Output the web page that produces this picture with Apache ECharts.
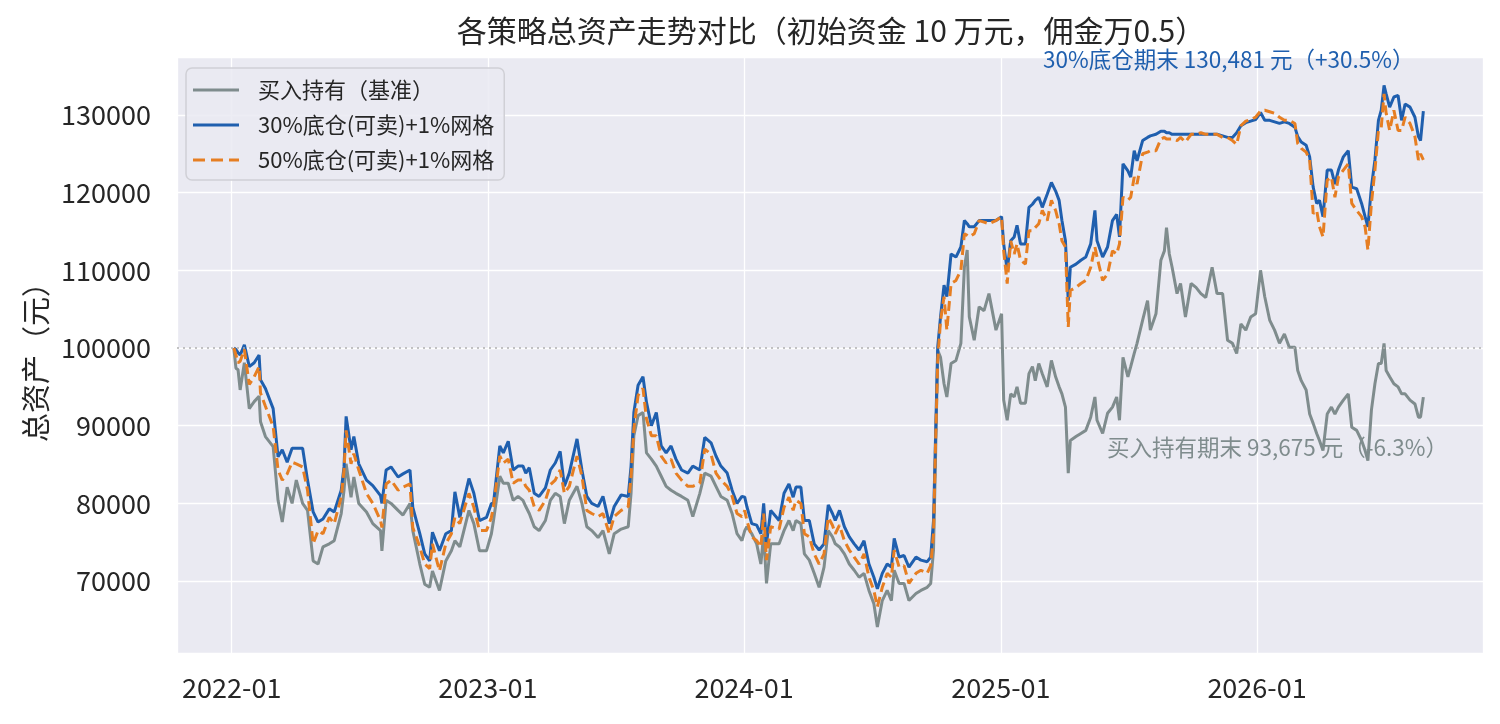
<!DOCTYPE html>
<html>
<head>
<meta charset="UTF-8">
<title>各策略总资产走势对比</title>
<script src="https://cdn.jsdelivr.net/npm/echarts@6/dist/echarts.min.js"></script>
<style>
html, body { margin: 0; padding: 0; background: #fff; }
#main { width: 1500px; height: 724px; }
</style>
</head>
<body>
<div id="main"></div>
<script>
// 交易日期（抽样）
var dates = [
  '2022-01-04','2022-01-07','2022-01-10','2022-01-13','2022-01-19','2022-01-26','2022-02-02','2022-02-09','2022-02-11','2022-02-18',
  '2022-03-01','2022-03-08','2022-03-14','2022-03-21','2022-03-28','2022-04-03','2022-04-12','2022-04-19','2022-04-27','2022-05-04',
  '2022-05-11','2022-05-20','2022-05-27','2022-06-06','2022-06-10','2022-06-13','2022-06-20','2022-06-24','2022-07-01','2022-07-12',
  '2022-07-21','2022-08-01','2022-08-03','2022-08-09','2022-08-16','2022-08-26','2022-09-02','2022-09-12','2022-09-16','2022-09-26',
  '2022-10-03','2022-10-10','2022-10-14','2022-10-24','2022-11-02','2022-11-10','2022-11-15','2022-11-22','2022-12-05','2022-12-12',
  '2022-12-20','2022-12-30','2023-01-06',
  '2023-01-09','2023-01-18','2023-01-23','2023-01-30','2023-02-06','2023-02-13','2023-02-20','2023-02-24','2023-03-01','2023-03-08',
  '2023-03-15','2023-03-24','2023-03-31','2023-04-07','2023-04-14','2023-04-20','2023-04-27','2023-05-08','2023-05-15','2023-05-22',
  '2023-05-29','2023-06-07','2023-06-14','2023-06-23','2023-06-30','2023-07-10','2023-07-20','2023-07-24','2023-07-28','2023-08-03',
  '2023-08-10','2023-08-15','2023-08-22','2023-08-29','2023-09-05','2023-09-12','2023-09-19','2023-09-26','2023-10-04','2023-10-13',
  '2023-10-20','2023-10-30','2023-11-06','2023-11-15','2023-11-22','2023-11-29','2023-12-08','2023-12-15','2023-12-22','2023-12-29',
  '2024-01-02','2024-01-05','2024-01-12','2024-01-19','2024-01-25','2024-01-29','2024-02-02','2024-02-08','2024-02-20','2024-02-27',
  '2024-03-05','2024-03-11','2024-03-15','2024-03-22','2024-03-27','2024-04-03','2024-04-10','2024-04-17','2024-04-24','2024-04-30',
  '2024-05-06','2024-05-10','2024-05-16','2024-05-23','2024-05-30','2024-06-06','2024-06-13','2024-06-20','2024-06-27','2024-07-04',
  '2024-07-09','2024-07-16','2024-07-23','2024-07-29','2024-08-02','2024-08-09','2024-08-16','2024-08-23','2024-09-02','2024-09-09',
  '2024-09-18','2024-09-23','2024-09-27','2024-09-30','2024-10-03','2024-10-07','2024-10-12','2024-10-16','2024-10-22','2024-10-29',
  '2024-11-05','2024-11-10','2024-11-14','2024-11-17','2024-11-24','2024-12-01','2024-12-08','2024-12-15','2024-12-25','2025-01-02',
  '2025-01-05','2025-01-10','2025-01-15','2025-01-20','2025-01-24','2025-01-29','2025-02-05','2025-02-10','2025-02-15','2025-02-19',
  '2025-02-24','2025-03-01','2025-03-08','2025-03-14','2025-03-20','2025-03-25','2025-03-29','2025-04-03','2025-04-07','2025-04-10',
  '2025-04-18','2025-04-25','2025-05-02','2025-05-09','2025-05-15','2025-05-18','2025-05-26','2025-06-02','2025-06-09','2025-06-15',
  '2025-06-19','2025-06-24','2025-07-01','2025-07-05','2025-07-10','2025-07-14','2025-07-22','2025-07-29','2025-08-02','2025-08-10',
  '2025-08-17','2025-08-22','2025-08-25','2025-08-29','2025-09-02','2025-09-09','2025-09-14','2025-09-21','2025-09-29','2025-10-06',
  '2025-10-13','2025-10-20','2025-10-29','2025-11-05','2025-11-13','2025-11-20','2025-11-27','2025-12-03','2025-12-09','2025-12-16',
  '2025-12-23','2025-12-30','2026-01-06',
  '2026-01-12','2026-01-19','2026-01-26','2026-02-02','2026-02-09','2026-02-16','2026-02-24','2026-02-28','2026-03-05','2026-03-12',
  '2026-03-17','2026-03-22','2026-03-27','2026-03-31','2026-04-05','2026-04-11','2026-04-17','2026-04-22','2026-04-27','2026-05-04',
  '2026-05-11','2026-05-16','2026-05-23','2026-05-30','2026-06-04','2026-06-08','2026-06-13','2026-06-18','2026-06-23','2026-06-27',
  '2026-07-01','2026-07-04','2026-07-09','2026-07-15','2026-07-21','2026-07-26','2026-07-31','2026-08-07','2026-08-14','2026-08-19',
  '2026-08-22','2026-08-26'
];

// 买入持有（基准）
var hold = [
  100000,97400,97200,94600,98100,92200,93100,93800,90500,88600,
  87300,80400,77600,82100,80000,83000,80000,79100,72600,72200,
  74400,74800,75200,78700,81700,85100,80800,83400,80000,78900,
  77400,76500,73900,80400,80000,79100,78500,80000,76500,72200,
  69600,69200,71300,68800,72600,73900,75200,74400,79100,77400,
  73900,73900,76100,
  77800,83500,82600,82600,80400,80900,80400,79600,78700,77000,
  76500,77800,80400,81300,80900,77400,80400,82200,80000,77000,
  76500,75600,76500,73500,76100,76700,77000,81300,88700,91300,
  91700,86500,85700,84800,83500,82200,81700,81300,80900,80400,
  78300,81300,83900,83500,82200,80900,80400,78700,76100,75200,
  76500,77000,76100,74800,72200,76100,69700,74800,74800,76500,
  77800,76500,77800,77400,73500,72700,71000,69200,71800,76500,
  75700,74800,74400,73500,72200,71400,70500,71000,68800,67100,
  64100,67500,68800,67500,71400,69700,69700,67500,68400,68800,
  69200,69700,74000,86400,99700,98800,95400,93700,98000,98400,
  100600,110400,112600,104000,101000,105300,104800,107000,102300,104400,
  93300,90700,94100,93700,95000,92900,92900,96700,97600,95800,
  98000,96700,95000,98400,96300,95000,94100,92400,83900,88100,
  88600,89000,89400,91100,93700,90700,89000,91600,92400,93700,
  90700,98800,96300,97600,99300,100600,103600,106100,102300,104400,
  111300,112500,115500,112100,110400,107000,108300,104000,108300,107800,
  107000,106500,110400,107000,107000,101000,100600,99300,103100,102300,
  104000,104400,110000,
  106600,103600,102300,100600,101800,100100,100100,97100,95800,94600,
  91500,90300,89000,88100,86800,91500,92400,91500,92400,93300,
  94100,89800,89400,88100,86800,85500,92000,95400,98000,98000,
  100600,97100,96300,95400,95000,94100,94100,93300,92800,91100,
  91100,93675
];

// 30%底仓(可卖)+1%网格
var grid30 = [
  100000,99800,99400,99100,100400,97600,98100,99100,95900,94800,
  92200,86000,86900,85300,87100,87100,87100,83000,78900,77600,
  78000,79300,78900,81700,84700,91200,86900,88600,85100,83000,
  82300,81000,80000,84300,84700,83400,83800,84300,79500,76100,
  73500,72600,76300,73900,76100,76500,81500,78200,83200,81300,
  77800,78200,80000,
  80000,87400,86500,88000,84300,84800,84800,83900,84600,81300,
  80900,82000,84300,85200,86700,82200,83900,88300,84300,80900,
  80000,79600,80900,77400,79600,81100,80900,84800,91700,95200,
  96300,93000,90000,91700,87400,86500,87400,85700,84300,83900,
  84800,84300,88500,87800,86100,84800,83900,81700,80000,80900,
  80800,79600,77400,77200,76100,80000,74800,79100,77800,81300,
  82500,80800,82100,82100,77800,77800,74800,74000,74800,79800,
  78700,77800,79100,77000,75700,74800,74000,75200,72200,70500,
  69000,71000,72200,71800,75500,73100,73300,71800,73100,72700,
  72500,73100,77800,89000,100100,104000,108100,106600,112100,111700,
  113000,116400,116000,115600,115600,116400,116400,116400,116400,116900,
  113400,110000,113800,114300,115800,113400,113400,118100,118500,119000,
  119400,118100,119800,121300,120200,119000,116400,113800,106100,110400,
  110800,111300,111700,113400,117700,113800,111700,113000,116400,117200,
  114300,123700,122800,122000,125400,124100,126700,127100,127300,127500,
  127900,127900,127700,127700,127500,127500,127500,127500,127500,127500,
  127500,127500,127500,127500,127300,127100,127100,127700,128600,129000,
  129200,129400,130300,
  129300,129300,129100,128900,129100,128900,128400,127200,126500,126100,
  124600,120700,118600,119000,116900,122900,122900,121100,122900,124600,
  125400,120700,120500,118600,116900,115600,120700,124200,129300,130600,
  133800,132700,131000,132300,132500,129300,131400,131000,129700,127200,
  126700,130481
];

// 50%底仓(可卖)+1%网格
var grid50 = [
  100000,99100,98100,98300,99800,95300,96300,97600,94200,92500,
  89900,84300,83000,83800,85300,85100,84700,81700,74800,76500,
  76100,78200,77400,80800,84300,89400,85100,86400,84300,81300,
  80000,77800,76900,82500,83000,81700,82100,82500,76900,74400,
  72200,71600,74800,71300,74800,76100,78200,77400,81300,79500,
  76500,76500,78200,
  79600,86100,85200,85700,82600,83000,83000,82200,81700,79600,
  79100,80400,82400,83000,84300,81300,82200,86100,83500,79100,
  78700,78300,78700,76100,78300,79100,79600,83500,89600,93900,
  94800,90900,88700,88700,86100,85200,85700,83900,83000,82200,
  82200,82600,87000,86300,83900,83000,82200,80900,78700,78300,
  79100,77800,75700,75200,74400,78700,72700,77000,76700,79500,
  80800,79100,80400,80000,76100,75700,73500,72200,73500,78200,
  77200,76100,77200,75200,74000,73100,72200,73500,70500,68800,
  66700,69200,71000,70500,74000,71800,72000,69700,71000,71400,
  71000,72000,76100,88100,98400,103500,106600,102300,108300,108700,
  110000,114700,114500,114300,114700,116400,116200,116000,116400,116900,
  112500,108300,113800,112100,113400,111300,110800,115100,115100,115500,
  116000,117700,116400,119000,117700,116000,113800,113000,102700,107400,
  107800,108300,108700,110400,113000,111700,108700,109500,112500,112100,
  113400,119400,119000,119400,122000,121100,125000,125200,125400,125400,
  126900,127100,126900,126900,126900,126700,127100,126500,127500,127500,
  127700,127500,127500,127500,127100,127100,126700,126200,128600,129200,
  129400,129700,130500,
  130600,130400,130200,129700,129300,129300,128900,126300,125700,125200,
  124200,117300,117700,115600,114300,121600,122000,119400,122000,122900,
  123700,118600,117700,116900,115600,112600,118600,122900,128000,128400,
  132700,130200,128000,130600,128000,128000,129700,128900,127200,124200,
  125000,124200
];

var seriesNames = ['买入持有（基准）', '30%底仓(可卖)+1%网格', '50%底仓(可卖)+1%网格'];
var colors = ['#7f8c8d', '#1f5fae', '#e67e22'];
var initialCapital = 100000;
var endNotes = [
  '30%底仓期末 130,481 元（+30.5%）',
  '买入持有期末 93,675 元（-6.3%）'
];

var FONT = '"Noto Sans CJK SC", "Noto Sans", sans-serif';
var YEAR = 365 * 24 * 3600 * 1000;
// 图例图标：实线 / 虚线
var solidIcon = 'path://M0,0h46v3h-46z';
var dashIcon = 'path://M0,0h12v3h-12zM18,0h12v3h-12zM36,0h10v3h-10z';

function pairs(vals) {
  return dates.map(function (d, i) { return [d, vals[i]]; });
}

var chart = echarts.init(document.getElementById('main'));

var option = {
  animation: false,
  backgroundColor: '#ffffff',
  textStyle: { fontFamily: FONT },
  title: {
    text: '各策略总资产走势对比（初始资金 10 万元，佣金万0.5）',
    left: 826,
    top: 11,
    textAlign: 'center',
    textStyle: { fontSize: 30, fontWeight: 'normal', color: '#262626', fontFamily: FONT }
  },
  grid: {
    left: 177, right: 17, top: 57, bottom: 71,
    show: true, backgroundColor: '#EAEAF2', borderWidth: 0,
    outerBoundsMode: 'none'
  },
  legend: {
    data: [
      { name: seriesNames[0], icon: solidIcon },
      { name: seriesNames[1], icon: solidIcon },
      { name: seriesNames[2], icon: dashIcon }
    ],
    orient: 'vertical',
    left: 186,
    top: 68,
    itemWidth: 46,
    itemHeight: 3,
    itemGap: 11,
    padding: [10, 10, 8, 7],
    backgroundColor: 'rgba(234,234,242,0.85)',
    borderColor: '#d0d0d6',
    borderWidth: 1.5,
    borderRadius: 6,
    textStyle: { fontSize: 22, color: '#262626', fontFamily: FONT, padding: [0, 0, 0, 14], lineHeight: 24 }
  },
  xAxis: {
    type: 'time',
    min: echarts.time.parse('2021-10-15'),
    max: echarts.time.parse('2026-11-19'),
    minInterval: YEAR,
    maxInterval: YEAR,
    axisLine: { show: false },
    axisTick: { show: false },
    axisLabel: {
      formatter: function (v) { return echarts.time.format(v, '{yyyy}-{MM}', false); },
      fontSize: 27, color: '#262626', margin: 21, fontFamily: FONT,
      showMinLabel: false, showMaxLabel: false
    },
    splitLine: { show: true, lineStyle: { color: '#ffffff', width: 1.3 } }
  },
  yAxis: {
    type: 'value',
    min: 60750,
    max: 137450,
    splitNumber: 8,
    name: '总资产（元）',
    nameLocation: 'middle',
    nameGap: 124,
    nameTextStyle: { fontSize: 29, color: '#262626', fontFamily: FONT },
    axisLine: { show: false },
    axisTick: { show: false },
    axisLabel: {
      formatter: function (v) { return String(v); },
      fontSize: 27, color: '#262626', margin: 26, fontFamily: FONT,
      showMinLabel: false, showMaxLabel: false
    },
    splitLine: { show: true, lineStyle: { color: '#ffffff', width: 1.3 } }
  },
  graphic: [
    {
      type: 'text', left: 1043, top: 48, z: 10,
      style: { text: endNotes[0], fill: colors[1], fontSize: 22.5, fontFamily: FONT }
    },
    {
      type: 'text', left: 1107, top: 436, z: 1,
      style: { text: endNotes[1], fill: colors[0], fontSize: 22.5, fontFamily: FONT }
    }
  ],
  series: [
    {
      name: seriesNames[0],
      type: 'line',
      data: pairs(hold),
      symbol: 'none',
      showSymbol: false,
      lineStyle: { color: colors[0], width: 3 },
      itemStyle: { color: colors[0] },
      z: 2,
      markLine: {
        silent: true,
        symbol: 'none',
        label: { show: false },
        lineStyle: { color: '#b0b0b0', width: 1.6, type: [2, 4] },
        data: [{ yAxis: initialCapital }]
      }
    },
    {
      name: seriesNames[1],
      type: 'line',
      data: pairs(grid30),
      symbol: 'none',
      showSymbol: false,
      lineStyle: { color: colors[1], width: 3 },
      itemStyle: { color: colors[1] },
      z: 3
    },
    {
      name: seriesNames[2],
      type: 'line',
      data: pairs(grid50),
      symbol: 'none',
      showSymbol: false,
      lineStyle: { color: colors[2], width: 3, type: [10, 5] },
      itemStyle: { color: colors[2] },
      z: 4
    }
  ]
};

chart.setOption(option);
</script>
</body>
</html>
